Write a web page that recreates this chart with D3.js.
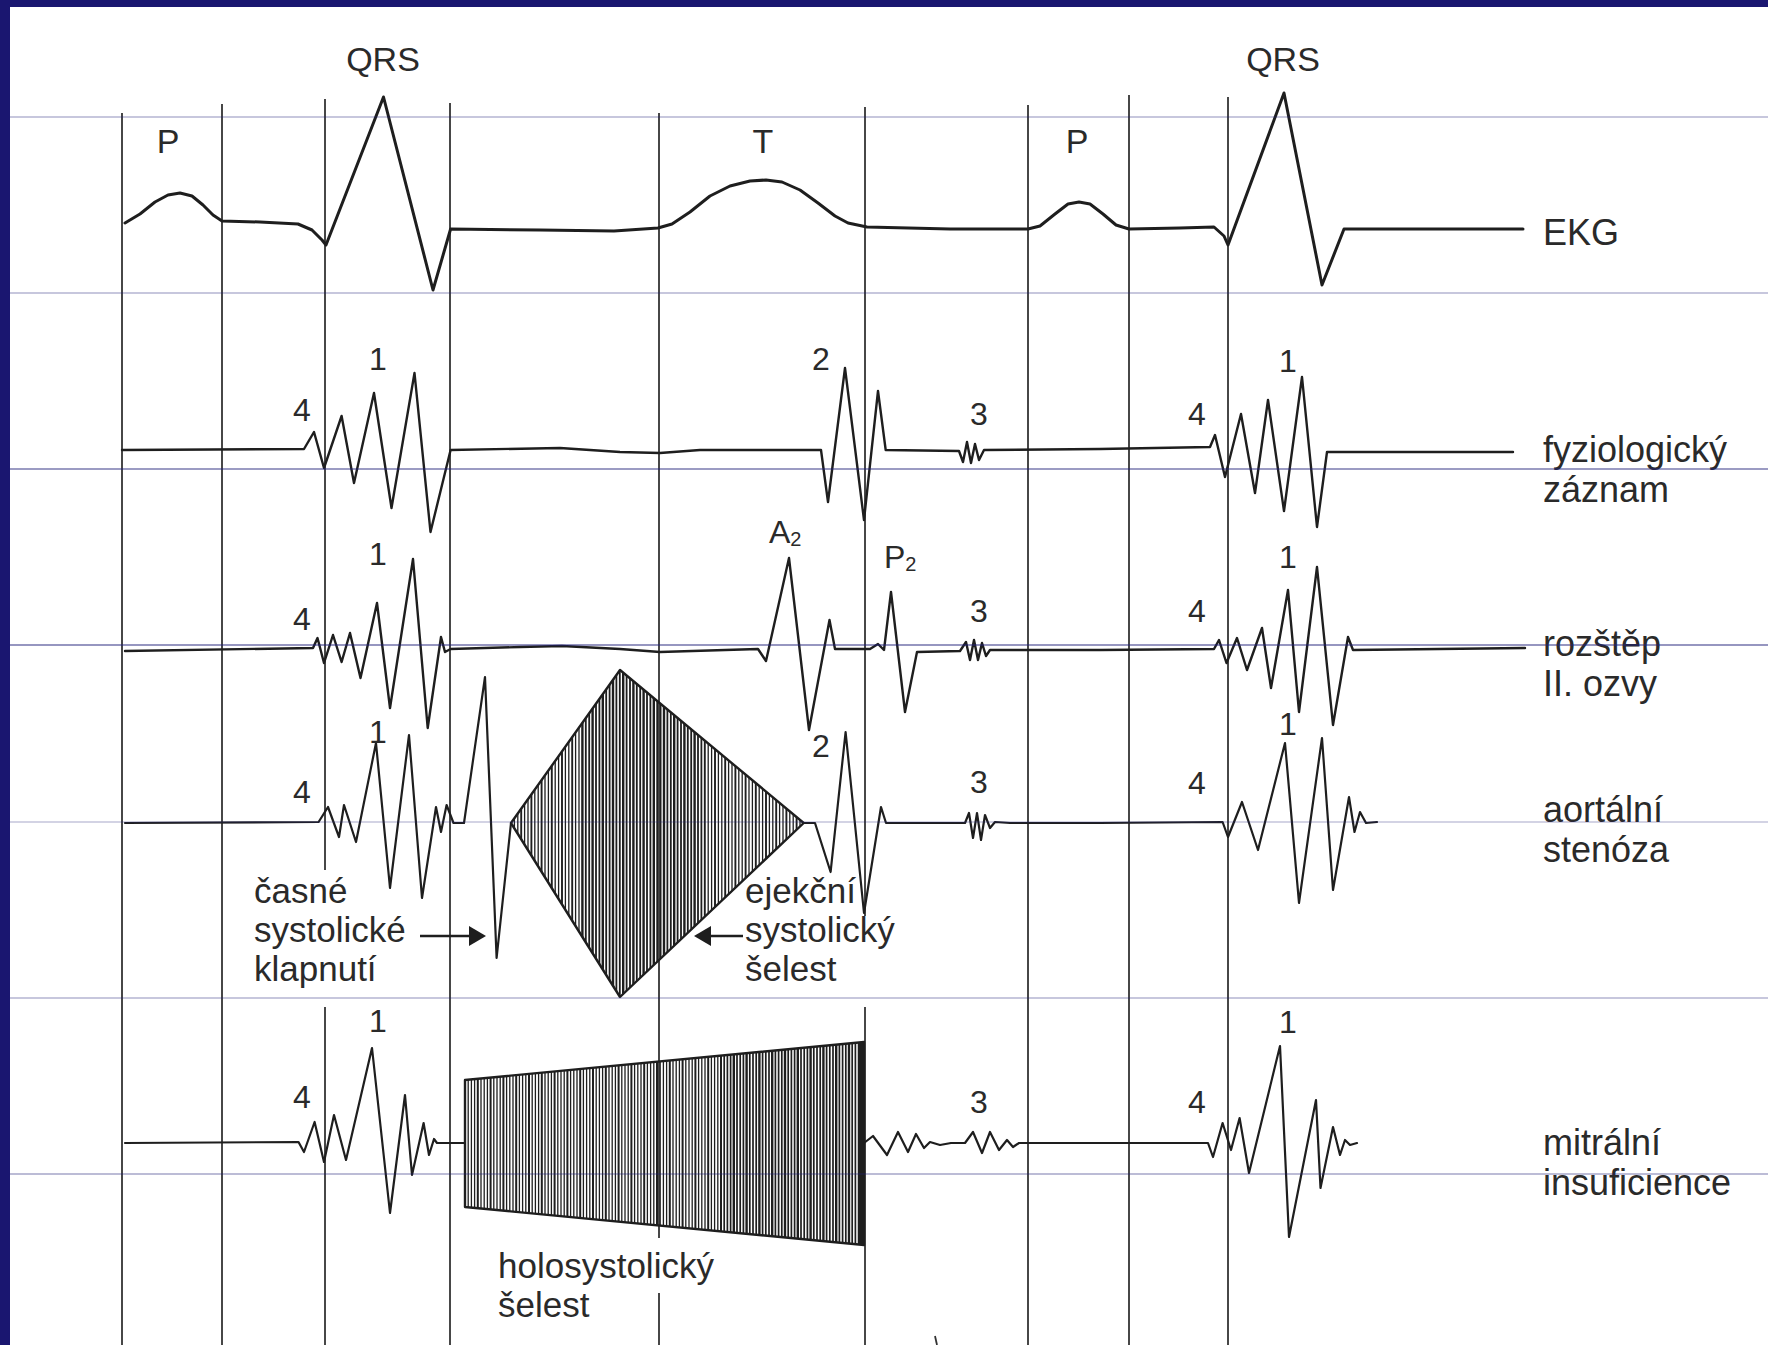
<!DOCTYPE html>
<html>
<head>
<meta charset="utf-8">
<script src="https://cdn.jsdelivr.net/npm/d3@7"></script>
<style>
  html, body { margin: 0; padding: 0; background: #ffffff; }
  svg { display: block; }
  text { font-family: "Liberation Sans", Arial, Helvetica, sans-serif; fill: #2a2a2a; }
</style>
</head>
<body>
<script>
// ---- time markers (vertical guide lines), in ms-like time units ----
const markerTimes = [0, 100, 203, 328, 537, 743, 906, 1007, 1106];

// ---- traces: [time, amplitude] ----
const ekgTrace = [[3,6],[18,15],[33,27],[46,34],[58,36],[70,33],[81,24],[91,14],[100,8],[138,7],[176,5],[190,-1],[200,-11],[204,-16],
  [261.5,132],[311,-61],[328.6,0],[418,-1],[492,-2],[536,1],[550,5],[568,17],[588,33],[608,43],[628,48],[644,49],[660,47],[678,39],
  [696,26],[713,13],[726,6],[745,2],[828,0],[906,0],[918,3],[933,15],[946,25],[957,27],[968,25],[981,15],[994,4],[1007,0],[1058,1],
  [1092,2],[1102,-7],[1106,-16],[1162,136],[1200,-56],[1222,0],[1401,0]];

const normalTrace = [[0,0],[182,1],[192,18],[202,-18],[219.6,34],[232,-33],[252,57],[269.5,-58],[292.5,77],[308.5,-82],[328.6,0],
  [438,2],[498,-2],[538,-3],[578,0],[699,0],[706,-52],[723,82],[742,-70],[756,59],[763.7,0],[837,-1],
  [841,-12],[845,8],[849,-13],[853,6],[857,-10],[862,0],[978,1],[1088,3],[1093,15],[1103,-27],[1119,36],[1133,-43],[1146,50],
  [1162,-61],[1180,73],[1195,-77],[1205,-2],[1391,-2]];

const splitTrace = [[3,-1],[191,2],[195.5,12],[202,-13],[211,15],[219.6,-12],[228,17],[238.5,-28],[255,47],[268,-58],[291,91],
  [305.7,-78],[319,13],[323,-2],[328.6,1],[398,3],[440,4],[498,1],[538,-2],[636,1],[644,-11],[667,92],[687,-80],[707.5,30],[713,1],
  [748,1],[756,6],[762,0],[769,58],[783,-62],[795,-2],[838,-1],[844,8],[848,-10],[852,10],[856,-10],[860,7],[864,-6],[868,0],
  [978,0],[1092,1],[1097,10],[1104.5,-13],[1115,12],[1125,-20],[1140,22],[1149,-38],[1166,60],[1177,-62],[1195,83],[1211,-75],
  [1226,13],[1231,0],[1403,2]];

const aorticTrace = [[3,0],[196.6,1],[206,16],[217,-14],[222,18],[234,-19],[254,80],[268,-65],[287,88],[300,-75],[314,16],[319,-9],
  [324.6,18],[331.5,0],[342,0],[363,146],[374.6,-135],[389,0]];
const aorticTrace2 = [[681.7,0],[693,0],[708.6,-49],[723.6,91],[742,-90],[759,16],[764,0],[843,0],[847,10],[851,-15],[855,10],
  [859,-17],[863,8],[868,-5],[873,1],[888,0],[978,0],[1100.6,1],[1106,-14],[1120,21],[1136,-27],[1163,80],[1177,-80],[1200,85],
  [1211,-67],[1227,26],[1232.5,-9],[1238,11],[1244,0],[1255,1]];
// crescendo-decrescendo ejection murmur: left, top, right, bottom vertices
const ejectionMurmur = [[389,0],[498,153],[681.7,0],[498,-174]];

const mitralTrace = [[3,0],[176.5,1],[182,-9],[192.6,21],[202,-19],[212,28],[224,-17],[250,95],[268,-70],[283,48],[290,-32],
  [301.6,20],[307,-12],[312,4],[315,0],[343,0]];
const mitralTrace2 = [[742,0],[751,7],[765,-12],[776,11],[786,-9],[794,9],[802,-5],[808,1],[818,-2],[829,0],[843,0],[851,11],
  [860,-10],[868,11],[877,-7],[885,3],[891,-4],[897,0],[1086,0],[1091,-14],[1100.6,20],[1109,-7],[1117.6,25],[1127,-30],
  [1158,97],[1167,-94],[1194,43],[1198.5,-45],[1211,16],[1218,-12],[1223,3],[1228,-2],[1235,0]];
// holosystolic murmur envelope: [time, upper amplitude, lower amplitude]
const holoMurmur = [[343,63,-64],[742,101,-102]];

// ---- labels ----
const topLabels = [["QRS",261,"q"],["QRS",1161,"q"],["P",46,"p"],["T",641,"p"],["P",955,"p"]];
const rowNames = [["EKG"],["fyziologický","záznam"],["rozštěp","II. ozvy"],["aortální","stenóza"],["mitrální","insuficience"]];
// sound labels per row: [text, time, amplitude]
const soundLabels = [
  [["4",180,29],["1",256,80],["2",699,80],["3",857,25],["4",1075,25],["1",1166,78]],
  [["4",180,20],["1",256,85],["3",857,28],["4",1075,28],["1",1166,82]],
  [["4",180,20],["1",256,80],["2",699,66],["3",857,30],["4",1075,29],["1",1166,88]],
  [["4",180,35],["1",256,111],["3",857,30],["4",1075,30],["1",1166,110]]
];

// ---- layout ----
const W = 1768, H = 1345;
const baselines = [229, 450, 650, 823, 1143];
const bandLines = [117, 293, 469, 645, 822, 998, 1174];
const bandOpacity = [0.5, 0.5, 0.9, 0.95, 0.4, 0.5, 0.6];

const svg = d3.select("body").append("svg").attr("width", W).attr("height", H);
svg.append("rect").attr("width", W).attr("height", H).attr("fill", "#ffffff");

const x = d3.scaleLinear().domain([0, 1400]).range([122, 1522]);
const yRow = b => d3.scaleLinear().domain([-100, 100]).range([b + 100, b - 100]);
const ys = baselines.map(yRow);

const ink = "#1e1e1e";
const defs = svg.append("defs");

// vertical guide lines, some interrupted around text and murmurs
const guideTops = [113, 104, 99, 103, 113, 107, 105, 95, 97];
const guideGaps = {2: [[870, 1007]], 4: [[1238, 1293]], 5: [[916, 1007]]};
const guides = svg.append("g").attr("stroke", "#333").attr("stroke-width", 1.8);
markerTimes.forEach((t, i) => {
  let segs = [[guideTops[i], H]];
  (guideGaps[i] || []).forEach(([a, b]) => {
    const last = segs.pop();
    segs.push([last[0], a], [b, last[1]]);
  });
  segs.forEach(([a, b]) => guides.append("line")
    .attr("x1", x(t)).attr("x2", x(t)).attr("y1", a).attr("y2", b));
});
guides.append("line").attr("x1", x(813)).attr("x2", x(815)).attr("y1", 1336).attr("y2", H);

// hatched murmur shapes
function hatch(id, poly, t0, t1, step, widthFn) {
  defs.append("clipPath").attr("id", id).append("polygon")
    .attr("points", poly.map(p => p.join(",")).join(" "));
  const g = svg.append("g").attr("clip-path", `url(#${id})`);
  const n = Math.floor((t1 - t0) / step);
  g.selectAll("line").data(d3.range(n + 1)).join("line")
    .attr("x1", i => x(t0 + i * step)).attr("x2", i => x(t0 + i * step))
    .attr("y1", 0).attr("y2", H)
    .attr("stroke", ink)
    .attr("stroke-width", (i) => widthFn(i, t0 + i * step));
  svg.append("polygon").attr("points", poly.map(p => p.join(",")).join(" "))
    .attr("fill", "none").attr("stroke", ink).attr("stroke-width", 2.4).attr("stroke-linejoin", "round");
}

const diamondPts = ejectionMurmur.map(([t, a]) => [x(t), ys[3](a)]);
hatch("ejection", diamondPts, 389, 682, 3.4,
  (i, t) => (i % 3 === 0 ? 1.9 : 1.3) + (Math.abs(t - 520) < 60 ? 0.5 : 0));

const holoPts = [
  [x(holoMurmur[0][0]), ys[4](holoMurmur[0][1])],
  [x(holoMurmur[1][0]), ys[4](holoMurmur[1][1])],
  [x(holoMurmur[1][0]), ys[4](holoMurmur[1][2])],
  [x(holoMurmur[0][0]), ys[4](holoMurmur[0][2])]
];
hatch("holo", holoPts, 343, 742, 3.2,
  (i, t) => (i % 4 === 0 ? 2.0 : 1.3) + (t > 600 ? 0.4 : 0));
svg.append("rect").attr("x", x(737)).attr("y", ys[4](holoMurmur[1][1]))
  .attr("width", x(742) - x(737)).attr("height", ys[4](holoMurmur[1][2]) - ys[4](holoMurmur[1][1]))
  .attr("fill", ink);

// traces
function trace(data, row, width) {
  const line = d3.line().x(d => x(d[0])).y(d => ys[row](d[1]));
  svg.append("path").datum(data).attr("d", line)
    .attr("fill", "none").attr("stroke", ink).attr("stroke-width", width)
    .attr("stroke-linejoin", "round").attr("stroke-linecap", "round");
}
trace(ekgTrace, 0, 3.0);
trace(normalTrace, 1, 2.4);
trace(splitTrace, 2, 2.4);
trace(aorticTrace, 3, 2.2);
trace(aorticTrace2, 3, 2.2);
trace(mitralTrace, 4, 2.2);
trace(mitralTrace2, 4, 2.2);

// top wave labels
topLabels.forEach(([s, t, k]) => {
  svg.append("text").attr("x", x(t)).attr("y", k === "q" ? 71 : 153)
    .attr("text-anchor", "middle").attr("font-size", 34).text(s);
});

// row names on the right
rowNames.forEach((lines, r) => {
  const y0 = [245, 462, 656, 822, 1155][r];
  lines.forEach((s, j) => svg.append("text").attr("x", 1543).attr("y", y0 + j * 39.5)
    .attr("font-size", 36).text(s));
});

// heart sound numbers
soundLabels.forEach((labels, k) => {
  labels.forEach(([s, t, a]) => svg.append("text").attr("x", x(t)).attr("y", ys[k + 1](a))
    .attr("text-anchor", "middle").attr("font-size", 32).text(s));
});
// split second sound components
function subLabel(main, sub, t, a) {
  const tx = svg.append("text").attr("x", x(t)).attr("y", ys[2](a)).attr("font-size", 32);
  tx.append("tspan").text(main);
  tx.append("tspan").attr("font-size", 20).attr("dy", 3).text(sub);
}
subLabel("A", "2", 647, 107);
subLabel("P", "2", 762, 82);

// annotations
function block(lines, t, y0) {
  lines.forEach((s, j) => svg.append("text").attr("x", x(t)).attr("y", y0 + j * 39)
    .attr("font-size", 35).text(s));
}
block(["časné", "systolické", "klapnutí"], 132, 903);
block(["ejekční", "systolický", "šelest"], 623, 903);
block(["holosystolický", "šelest"], 376, 1278);

function arrow(tFrom, tTo, y) {
  const dir = Math.sign(tTo - tFrom);
  svg.append("line").attr("x1", x(tFrom)).attr("x2", x(tTo) - dir * 12).attr("y1", y).attr("y2", y)
    .attr("stroke", ink).attr("stroke-width", 2.4);
  svg.append("polygon")
    .attr("points", [[x(tTo), y], [x(tTo) - dir * 17, y - 10], [x(tTo) - dir * 17, y + 10]].map(p => p.join(",")).join(" "))
    .attr("fill", ink);
}
arrow(298, 364, 936);
arrow(621, 572, 936);

// horizontal band rules
svg.append("g").selectAll("line").data(bandLines).join("line")
  .attr("x1", 8).attr("x2", W).attr("y1", d => d).attr("y2", d => d)
  .attr("stroke", "#22227a").attr("stroke-width", 1.2)
  .attr("stroke-opacity", (d, i) => bandOpacity[i]);

// frame
svg.append("rect").attr("x", 0).attr("y", 0).attr("width", W).attr("height", 7).attr("fill", "#1a1670");
svg.append("rect").attr("x", 0).attr("y", 0).attr("width", 10).attr("height", H).attr("fill", "#1a1670");
</script>
</body>
</html>
